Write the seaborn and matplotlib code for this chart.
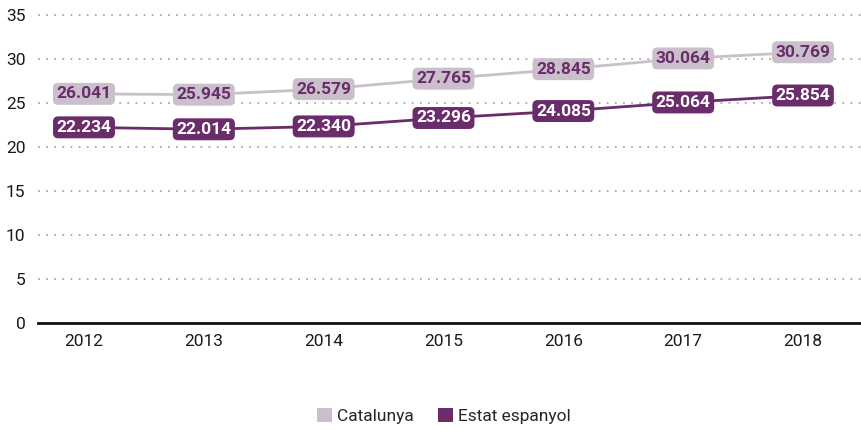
import matplotlib
matplotlib.use("Agg")
import matplotlib.pyplot as plt
from matplotlib.patches import Patch
import seaborn as sns
import pandas as pd

years = ["2012", "2013", "2014", "2015", "2016", "2017", "2018"]
catalunya = [26.041, 25.945, 26.579, 27.765, 28.845, 30.064, 30.769]
estat = [22.234, 22.014, 22.340, 23.296, 24.085, 25.064, 25.854]
series_names = ["Catalunya", "Estat espanyol"]
y_ticks = [0, 5, 10, 15, 20, 25, 30, 35]

light = "#c9c0cc"
dark = "#6a2c6b"

sns.set_theme(style="white")
plt.rcParams["font.family"] = ["Roboto", "DejaVu Sans"]

df = pd.DataFrame({
    "year": years * 2,
    "x": list(range(len(years))) * 2,
    "value": catalunya + estat,
    "serie": [series_names[0]] * len(years) + [series_names[1]] * len(years),
})

fig = plt.figure(figsize=(8.62, 4.30), dpi=100)
ax = fig.add_axes([38 / 862, 1 - 323 / 430, 1 - 38 / 862, (323 - 15) / 430 * 36 / 35])

sns.lineplot(data=df, x="x", y="value", hue="serie", palette=[light, dark],
             linewidth=2.0, legend=False, ax=ax, zorder=3)

label_style = dict(ha="center", va="center", fontsize=12.5, fontweight="bold", zorder=5)
for i, (c, e) in enumerate(zip(catalunya, estat)):
    ax.text(i, c, f"{c:.3f}", color=dark,
            bbox=dict(boxstyle="round,pad=0.2,rounding_size=0.3", fc=light, ec="none"),
            **label_style)
    ax.text(i, e, f"{e:.3f}", color="white",
            bbox=dict(boxstyle="round,pad=0.2,rounding_size=0.3", fc=dark, ec="none"),
            **label_style)

unit = (803 - 84) / 6
ax.set_xlim((38 - 84) / unit, 6 + (862 - 803) / unit)
ax.set_ylim(0, 36)
ax.set_yticks(y_ticks)
ax.set_yticklabels([str(t) for t in y_ticks], fontsize=12.5, color="#1a1a1a")
ax.set_xticks(range(len(years)))
ax.set_xticklabels(years, fontsize=12.5, color="#1a1a1a")
ax.tick_params(axis="both", length=0)
ax.tick_params(axis="y", pad=9)
ax.tick_params(axis="x", pad=8)
ax.set_xlabel("")
ax.set_ylabel("")

for t in y_ticks[1:]:
    ax.axhline(t, color="#aaaaaa", linestyle=(0, (1, 3.5)), linewidth=1.3, zorder=1)

for side in ["left", "right", "top"]:
    ax.spines[side].set_visible(False)
ax.spines["bottom"].set_color("#111111")
ax.spines["bottom"].set_linewidth(2)

handles = [Patch(facecolor=light, edgecolor="none", label=series_names[0]),
           Patch(facecolor=dark, edgecolor="none", label=series_names[1])]
fig.legend(handles=handles, loc="lower center", bbox_to_anchor=(0.515, -0.022), ncol=2,
           frameon=False, fontsize=12.5, handlelength=0.85, handleheight=0.85,
           handletextpad=0.3, columnspacing=1.4)

fig.savefig("out.png", dpi=100)
